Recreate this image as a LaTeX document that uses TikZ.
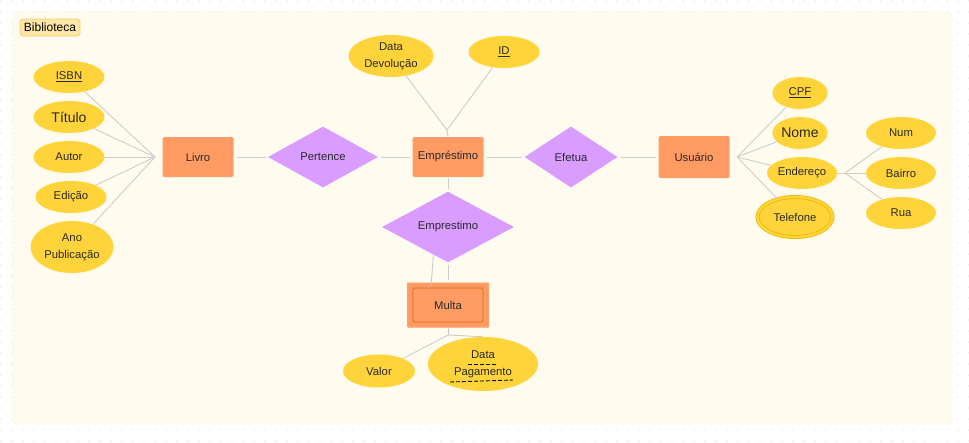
\documentclass[tikz,border=0pt]{standalone}
\usepackage{fontspec}
\setmainfont{Liberation Sans}
\usetikzlibrary{shapes.geometric,calc}

\definecolor{attrYellow}{HTML}{FFD43A}
\definecolor{attrRing}{HTML}{EDB800}
\definecolor{entOrange}{HTML}{FF9B63}
\definecolor{entRing}{HTML}{E5670F}
\definecolor{relPurple}{HTML}{D99CFF}
\definecolor{edgeGray}{HTML}{CDCDCD}
\definecolor{dotGray}{HTML}{CFCFCF}
\definecolor{frameFill}{HTML}{FFFCEF}
\definecolor{frameLine}{HTML}{FBEFC9}
\definecolor{tagFill}{HTML}{FDE6A6}
\definecolor{tagLine}{HTML}{EFCB6A}
\definecolor{inkGray}{HTML}{2A2A2A}

\begin{document}
\begin{tikzpicture}[
  x=1pt, y=-1pt,
  font=\fontsize{11.3}{13}\selectfont, text=inkGray,
  attr/.style={ellipse, fill=attrYellow, inner sep=0pt, align=center, minimum width=71pt, minimum height=32pt},
  entity/.style={rectangle, fill=entOrange, rounded corners=1.5pt, inner sep=0pt, minimum width=71pt, minimum height=40pt},
  rel/.style={diamond, fill=relPurple, inner sep=0pt, minimum height=61pt},
  edge/.style={draw=edgeGray, line width=0.9pt},
  link/.style={edge, shorten <=3pt, shorten >=2pt},
  bigtxt/.style={font=\fontsize{14}{16}\selectfont}
]
% canvas, dot grid and frame
\fill[white] (0,0) rectangle (969,442);
\useasboundingbox (0,0) rectangle (969,442);
\foreach \i in {0,...,88}
  \foreach \j in {0,...,40}
    \fill[dotGray] (11*\i+1, 11*\j+1) circle (0.55pt);
\draw[frameLine, fill=frameFill, rounded corners=4pt] (13,12) rectangle (952,424);
\node[draw=tagLine, line width=0.7pt, fill=tagFill, rounded corners=3pt, minimum width=60pt, minimum height=17pt, inner sep=0pt, text=black, font=\fontsize{12}{14}\selectfont] (tag) at (50,27.5) {Biblioteca};

% entities and relationships
\node[entity] (livro) at (198,157) {Livro};
\node[rel, minimum width=110pt] (pertence) at (323,157) {Pertence};
\node[entity] (emprest) at (448,157) {Empréstimo};
\node[rel, minimum width=93pt] (efetua) at (571,157) {Efetua};
\node[entity, minimum height=42pt] (usuario) at (694,157) {Usuário};
\node[rel, minimum width=132pt, minimum height=60pt] (emprel) at (448,227) {Emprestimo};
\node[entity, minimum width=82pt, minimum height=45pt, rounded corners=1pt] (multa) at (448,305) {};
\node[entity, draw=entRing, line width=0.9pt, minimum width=70pt, minimum height=34pt] (multain) at (multa) {Multa};

% attributes of Livro
\node[attr] (isbn) at (69,77) {\underline{ISBN}};
\node[attr, bigtxt] (titulo) at (69,117) {Título};
\node[attr] (autor) at (69,157) {Autor};
\node[attr] (edicao) at (71,197) {Edição};
\node[attr, minimum width=83pt, minimum height=52pt, font=\fontsize{11.3}{17}\selectfont] (anopub) at (72,247) {Ano\\Publicação};
\coordinate (jlivro) at (155,157);

% attributes of Empréstimo
\node[attr, minimum width=85pt, minimum height=42pt, font=\fontsize{11.3}{17}\selectfont] (datadev) at (391,56) {Data\\Devolução};
\node[attr] (id) at (504,52) {\underline{ID}};
\coordinate (jemp) at (447,130);

% attributes of Usuário
\node[attr, minimum width=55pt] (cpf) at (800,93) {\underline{CPF}};
\node[attr, minimum width=55pt, bigtxt] (nome) at (800,133) {Nome};
\node[attr, minimum width=70pt] (endereco) at (802,173) {Endereço};
\node[attr, minimum width=75pt, minimum height=40pt, draw=attrRing, line width=0.8pt, double=attrYellow, double distance=2.4pt] (telefone) at (795,217) {Telefone};
\coordinate (jusu) at (737,157);

% parts of Endereço
\node[attr, minimum width=70pt] (num) at (901,133) {Num};
\node[attr, minimum width=70pt] (bairro) at (901,173) {Bairro};
\node[attr, minimum width=70pt] (rua) at (901,213) {Rua};
\coordinate (jend) at (845,173);

% attributes of Multa
\node[attr, minimum width=72pt, minimum height=33pt] (valor) at (379,371) {Valor};
\node[attr, minimum width=110pt, minimum height=54pt, font=\fontsize{11.3}{17}\selectfont] (datapag) at (483,364) {Data\\Pagamento};
\coordinate (jmulta) at (448,335);
\draw[black, line width=0.9pt, dash pattern=on 4pt off 2pt] ($(datapag.center)+(-15,0)$) -- ($(datapag.center)+(13,0)$);
\draw[black, line width=0.9pt, dash pattern=on 4pt off 2pt] ($(datapag.center)+(-33,18)$) -- ($(datapag.center)+(30,16)$);

% connectors
\draw[link] (livro) -- (pertence);
\draw[link] (pertence) -- (emprest);
\draw[link] (emprest) -- (efetua);
\draw[link] (efetua) -- (usuario);
\draw[edge, shorten <=1pt, shorten >=2pt] (emprest) -- (emprel);
\draw[edge, shorten <=2pt, shorten >=2pt] (emprel.south) -- (multa.north);
\draw[edge] ($(emprel.south)!0.22!(emprel.west)$) -- ([xshift=-17pt, yshift=-4pt]multa.north);

\foreach \a in {isbn, titulo, autor, edicao, anopub}
  \draw[edge] (\a) -- (jlivro);
\foreach \a in {datadev, id}
  \draw[edge] (\a) -- (jemp);
\draw[edge] (jemp) -- (emprest.north);
\foreach \a in {cpf, nome, endereco, telefone}
  \draw[edge] (\a) -- (jusu);
\foreach \a in {num, bairro, rua}
  \draw[edge] (\a) -- (jend);
\draw[edge] (endereco) -- (jend);
\draw[edge] (multa.south) -- (jmulta);
\draw[edge] (jmulta) -- (valor);
\draw[edge] (jmulta) -- (datapag.north);
\end{tikzpicture}
\end{document}
